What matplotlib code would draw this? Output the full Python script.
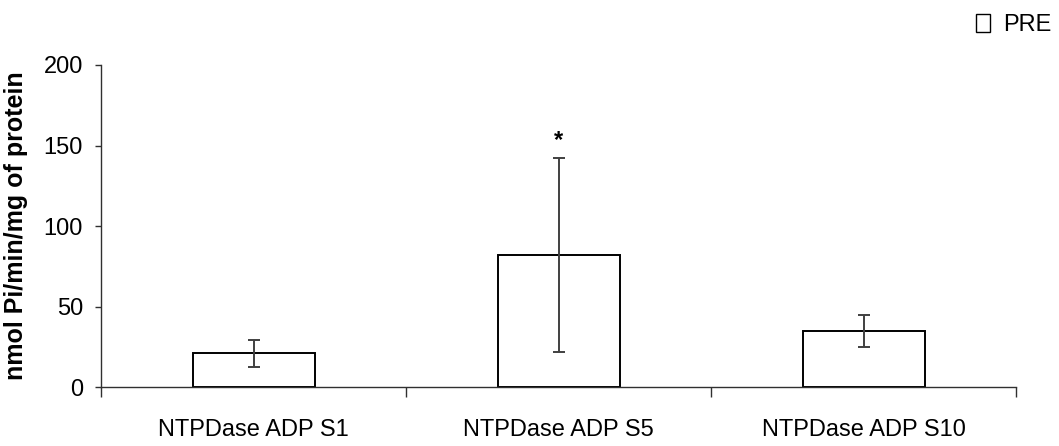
import matplotlib
matplotlib.use('Agg')
import numpy as np
import matplotlib.pyplot as plt
from matplotlib.patches import Patch

plt.rcParams['font.family'] = ['Liberation Sans', 'DejaVu Sans']

categories = ['NTPDase ADP S1', 'NTPDase ADP S5', 'NTPDase ADP S10']
pre_mean = [21.2, 82.0, 35.0]
pre_sd = [8.3, 60.2, 9.8]
significant = [False, True, False]

EDGE = '#000000'
ERR = '#404040'
AXIS = '#303030'

fig = plt.figure(figsize=(10.59, 4.46), dpi=100, facecolor='white')
ax = fig.add_axes([0.0954, 0.1316, 0.8640, 0.7227])

x = np.arange(len(categories))
ax.bar(x, pre_mean, width=0.4, color='white', edgecolor=EDGE, linewidth=1.4,
       zorder=2, label='PRE')
ax.errorbar(x, pre_mean, yerr=pre_sd, fmt='none', ecolor=ERR, elinewidth=1.4,
            capsize=4, capthick=1.4, zorder=3)

# significance marks above the error bar
for xi, m, s, sig in zip(x, pre_mean, pre_sd, significant):
    if sig:
        ax.text(xi, m + s + 4, '*', ha='center', va='bottom', fontsize=17,
                fontweight='bold', color='black')

ax.set_xlim(-0.5, 2.5)
ax.set_ylim(0, 200)
ax.set_yticks([0, 50, 100, 150, 200])
ax.tick_params(axis='y', direction='out', length=4, width=1, colors=AXIS,
               labelsize=17, labelcolor='black', pad=9)

ax.set_xticks(x)
ax.set_xticklabels(categories)
ax.set_xticks([-0.5, 0.5, 1.5, 2.5], minor=True)
ax.tick_params(axis='x', which='major', length=0, labelsize=17, pad=23,
               labelcolor='black')
ax.tick_params(axis='x', which='minor', direction='out', length=7, width=1,
               colors=AXIS)

for side in ['top', 'right']:
    ax.spines[side].set_visible(False)
for side in ['left', 'bottom']:
    ax.spines[side].set_color(AXIS)
    ax.spines[side].set_linewidth(1)

ax.set_ylabel('nmol Pi/min/mg of protein', fontsize=18, fontweight='bold')
ax.yaxis.set_label_coords(-0.08, 0.5)

leg = fig.legend(handles=[Patch(facecolor='white', edgecolor='black',
                                linewidth=1, label='PRE')],
                 loc='upper right', bbox_to_anchor=(1.006, 1.0), frameon=False,
                 fontsize=17, handlelength=0.6, handleheight=0.75,
                 handletextpad=0.55, borderaxespad=0.2)

fig.savefig('out.png', dpi=100, facecolor='white')
